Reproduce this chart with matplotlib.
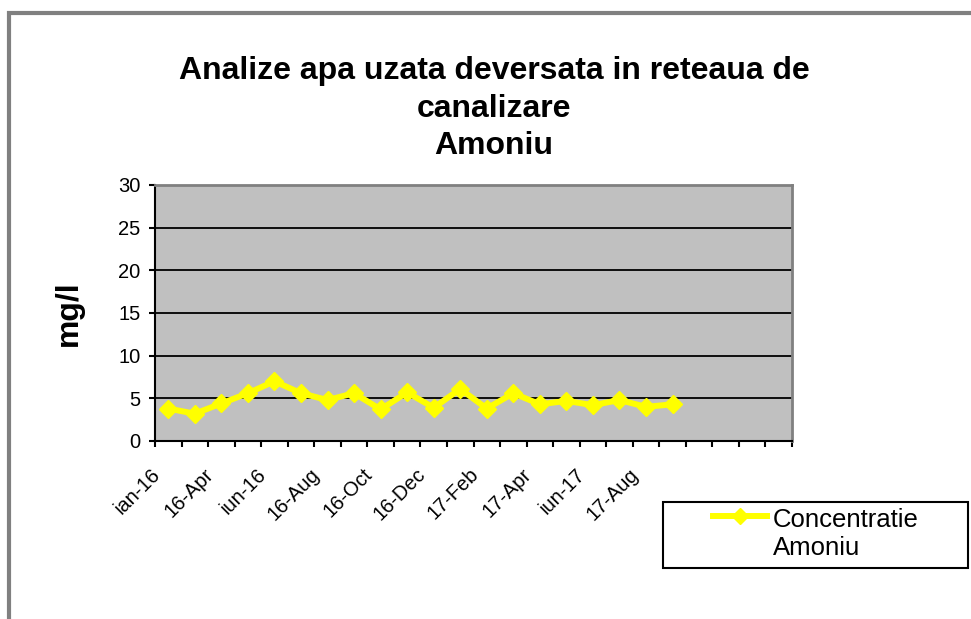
import numpy as np
import matplotlib
matplotlib.use('Agg')
from matplotlib import pyplot as plt
from matplotlib.patches import Rectangle
from matplotlib.lines import Line2D
from matplotlib.transforms import ScaledTranslation

plt.rcParams['font.family'] = ['Liberation Sans', 'DejaVu Sans']

# monthly samples, 24 category slots on the axis
categories = ['ian-16', '', '16-Apr', '', 'iun-16', '', '16-Aug', '', '16-Oct', '',
              '16-Dec', '', '17-Feb', '', '17-Apr', '', 'iun-17', '', '17-Aug', '',
              '', '', '', '']
amoniu = [3.8, 3.2, 4.4, 5.6, 7.0, 5.6, 4.8, 5.6, 3.7, 5.7,
          3.9, 6.1, 3.8, 5.6, 4.3, 4.7, 4.2, 4.8, 4.0, 4.3]
yticks = [0, 5, 10, 15, 20, 25, 30]
series_name = 'Concentratie\nAmoniu'
line_color = '#ffff00'


fig = plt.figure(figsize=(9.71, 6.19), dpi=100)
W, H = 971.0, 619.0

# outer chart border (only top/left edges fall inside the image)
fig.patches.append(Rectangle((9 / W, -0.1), 1.2, 1.1 - 13 / H,
                             transform=fig.transFigure, fill=False,
                             edgecolor='#808080', linewidth=3))

ax = fig.add_axes([155 / W, 1 - 441 / H, 637 / W, 256 / H])
ax.set_facecolor('#c0c0c0')

x = np.arange(len(amoniu))
ax.plot(x, amoniu, color=line_color, linewidth=4.3, marker='D',
        markersize=9, markeredgecolor=line_color, zorder=3, clip_on=False)

ax.set_xlim(-0.5, len(categories) - 0.5)
ax.set_ylim(0, 30)
ax.set_yticks(yticks)
for y in yticks[1:-1]:
    ax.axhline(y, color='black', linewidth=1.3, zorder=1)

ax.set_xticks(np.arange(-0.5, len(categories)), minor=True)
ax.set_xticks(np.arange(len(categories)))
ax.set_xticklabels(categories, rotation=45, ha='right', va='center',
                   rotation_mode='anchor', fontsize=14.5)
ax.tick_params(axis='x', which='major', length=0, pad=22)
ax.tick_params(axis='x', which='minor', length=4.5, width=1.5, direction='out')
ax.tick_params(axis='y', length=4.5, width=1.5, direction='out', labelsize=14.5, pad=6)
# nudge the slanted labels so they end just left of the category centre
shift = ScaledTranslation(-11 / 100, 0, fig.dpi_scale_trans)
for lbl in ax.get_xticklabels():
    lbl.set_transform(lbl.get_transform() + shift)

for side in ('top', 'right'):
    ax.spines[side].set_color('#808080')
    ax.spines[side].set_linewidth(2)
for side in ('left', 'bottom'):
    ax.spines[side].set_color('black')
    ax.spines[side].set_linewidth(1.5)

ax.set_ylabel('mg/l', fontsize=23, fontweight='bold')
ax.yaxis.set_label_coords((84 - 155) / 637, 0.5)

fig.text(494 / W, 1 - 56 / H,
         'Analize apa uzata deversata in reteaua de\ncanalizare\nAmoniu',
         ha='center', va='top', fontsize=23, fontweight='bold', linespacing=1.33)

# legend box with the series key aligned to the first text line
fig.patches.append(Rectangle((663 / W, 1 - 568 / H), 305 / W, 66 / H,
                             transform=fig.transFigure, facecolor='white',
                             edgecolor='black', linewidth=1.5))
fig.add_artist(Line2D([713 / W, 740 / W, 767 / W], [1 - 516 / H] * 3,
                      transform=fig.transFigure, color=line_color, linewidth=4.3,
                      marker='D', markersize=8, markevery=[1],
                      markeredgecolor=line_color))
fig.text(773 / W, 1 - 534 / H, series_name, ha='left', va='center',
         fontsize=18.5, linespacing=1.2)

fig.savefig('out.png', dpi=100)
